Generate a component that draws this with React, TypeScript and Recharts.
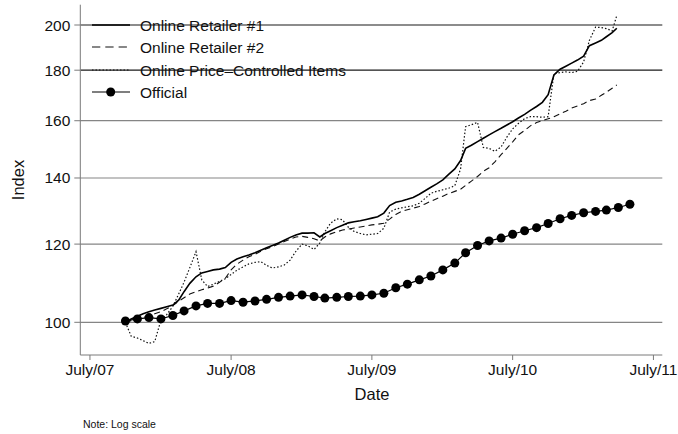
import { LineChart, Line, XAxis, YAxis, ReferenceLine } from "recharts"

const FONT = '"Liberation Sans", Arial, Helvetica, sans-serif'

// semi-monthly observation dates for the online indexes
const onlineDates = [
  "2007-10-01", "2007-10-16", "2007-11-01", "2007-11-16", "2007-12-01", "2007-12-16",
  "2008-01-01", "2008-01-16", "2008-02-01", "2008-02-16", "2008-03-01", "2008-03-16",
  "2008-04-01", "2008-04-16", "2008-05-01", "2008-05-16", "2008-06-01", "2008-06-16",
  "2008-07-01", "2008-07-16", "2008-08-01", "2008-08-16", "2008-09-01", "2008-09-16",
  "2008-10-01", "2008-10-16", "2008-11-01", "2008-11-16", "2008-12-01", "2008-12-16",
  "2009-01-01", "2009-01-16", "2009-02-01", "2009-02-16", "2009-03-01", "2009-03-16",
  "2009-04-01", "2009-04-16", "2009-05-01", "2009-05-16", "2009-06-01", "2009-06-16",
  "2009-07-01", "2009-07-16", "2009-08-01", "2009-08-16", "2009-09-01", "2009-09-16",
  "2009-10-01", "2009-10-16", "2009-11-01", "2009-11-16", "2009-12-01", "2009-12-16",
  "2010-01-01", "2010-01-16", "2010-02-01", "2010-02-16", "2010-03-01", "2010-03-16",
  "2010-04-01", "2010-04-16", "2010-05-01", "2010-05-16", "2010-06-01", "2010-06-16",
  "2010-07-01", "2010-07-16", "2010-08-01", "2010-08-16", "2010-09-01", "2010-09-16",
  "2010-10-01", "2010-10-16", "2010-11-01", "2010-11-16", "2010-12-01", "2010-12-16",
  "2011-01-01", "2011-01-16", "2011-02-01", "2011-02-16", "2011-03-01", "2011-03-16",
  "2011-03-28",
]

const retailer1 = [
  100.0, 100.8, 101.4, 102.0, 102.5, 102.9,
  103.3, 103.7, 104.1, 105.3, 107.4, 109.5,
  111.2, 112.2, 112.6, 113.0, 113.2, 113.6,
  115.0, 115.9, 116.5, 117.0, 117.6, 118.3,
  119.0, 119.6, 120.3, 121.1, 121.9, 122.6,
  123.1, 123.1, 123.2, 122.0, 123.0, 123.8,
  124.7, 125.4, 126.1, 126.4, 126.7, 127.1,
  127.5, 127.9, 129.0, 131.3, 132.3, 132.7,
  133.2, 133.8, 134.8, 135.9, 137.0, 138.1,
  139.4, 141.2, 143.0, 145.8, 150.0, 151.1,
  152.4, 153.6, 154.8, 156.0, 157.2, 158.4,
  159.6, 161.0, 162.4, 163.9, 165.4, 167.0,
  170.0, 178.0, 180.4, 181.7, 183.0, 184.3,
  186.0, 190.6, 191.8, 193.0, 194.6, 196.5,
  198.5,
]

const retailer2 = [
  100.0, 100.4, 100.9, 101.2, 101.5, 102.0,
  102.5, 103.2, 104.0, 105.0, 105.9, 106.8,
  107.4, 107.9, 108.3, 108.8, 109.8, 110.8,
  113.0, 114.5, 115.6, 116.5, 117.2, 118.0,
  118.7, 119.3, 120.0, 120.7, 121.4, 122.0,
  122.2, 121.9, 121.5, 120.9, 122.0, 122.9,
  123.5, 124.0, 124.3, 124.6, 124.9, 125.2,
  125.5, 125.7, 126.0, 127.2, 128.6, 129.5,
  130.0, 130.5, 131.0, 131.8, 132.6, 133.4,
  134.2, 135.0, 135.7, 136.4, 137.6, 139.0,
  140.5, 142.2, 143.4, 145.4, 147.8, 150.0,
  152.3, 154.8, 156.4, 158.1, 159.3, 160.1,
  160.7, 161.5, 162.6, 163.6, 164.8, 165.6,
  166.5, 167.7, 168.3, 169.8, 171.0, 172.6,
  173.9,
]

const priceControlled = [
  100.0, 96.8, 96.4, 95.8, 95.2, 95.6,
  100.5, 101.8, 103.8, 106.8, 109.8, 113.6,
  117.9, 110.4, 108.7, 109.3, 110.0, 110.7,
  111.8, 112.9, 113.8, 114.6, 115.0, 115.2,
  114.2, 113.5, 113.8, 114.3, 115.6, 118.0,
  120.0, 119.5, 118.5, 120.3, 123.5, 126.0,
  127.3, 127.0, 124.8, 123.6, 123.0, 122.6,
  122.8, 123.0, 124.5, 129.3, 130.2, 130.6,
  130.9, 131.2, 132.0, 133.5, 135.1, 135.7,
  136.2, 136.7, 137.5, 143.0, 157.8, 158.5,
  159.4, 150.3, 150.0, 149.0, 150.5, 154.0,
  157.0, 159.0, 160.8, 161.5, 161.5, 161.3,
  161.5, 178.5, 179.0, 179.3, 179.0, 179.5,
  183.5, 193.0, 199.0, 198.8, 198.3, 197.3,
  204.5,
]

// monthly official index
const officialDates = [
  "2007-10-01", "2007-11-01", "2007-12-01",
  "2008-01-01", "2008-02-01", "2008-03-01", "2008-04-01", "2008-05-01", "2008-06-01",
  "2008-07-01", "2008-08-01", "2008-09-01", "2008-10-01", "2008-11-01", "2008-12-01",
  "2009-01-01", "2009-02-01", "2009-03-01", "2009-04-01", "2009-05-01", "2009-06-01",
  "2009-07-01", "2009-08-01", "2009-09-01", "2009-10-01", "2009-11-01", "2009-12-01",
  "2010-01-01", "2010-02-01", "2010-03-01", "2010-04-01", "2010-05-01", "2010-06-01",
  "2010-07-01", "2010-08-01", "2010-09-01", "2010-10-01", "2010-11-01", "2010-12-01",
  "2011-01-01", "2011-02-01", "2011-03-01", "2011-04-01", "2011-05-01",
]

const officialValues = [
  100.3, 100.8, 101.1,
  100.8, 101.6, 102.7, 103.9, 104.5, 104.5,
  105.2, 104.8, 105.1, 105.5, 106.0, 106.3,
  106.6, 106.2, 105.8, 106.0, 106.2, 106.3,
  106.6, 107.0, 108.4, 109.3, 110.4, 111.4,
  113.0, 114.8, 117.6, 119.6, 120.9, 121.7,
  122.8, 123.8, 124.7, 125.9, 127.3, 128.3,
  129.1, 129.5, 129.9, 130.7, 131.7,
]

const xTickDates = ["2007-07-01", "2008-07-01", "2009-07-01", "2010-07-01", "2011-07-01"]
const xTickLabels = ["July/07", "July/08", "July/09", "July/10", "July/11"]
const yTicks = [100, 120, 140, 160, 180, 200]

const toTime = (d: string) => Date.parse(d)
const xTicks = xTickDates.map(toTime)
const xDomain = [Date.UTC(2007, 5, 6), Date.UTC(2011, 6, 24)]
const yDomain = [92.66, 209.7]

const series = (dates: string[], vals: number[]) =>
  dates.map((d, i) => ({ t: toTime(d), v: vals[i] }))

const r1Data = series(onlineDates, retailer1)
const r2Data = series(onlineDates, retailer2)
const pcData = series(onlineDates, priceControlled)
const officialData = series(officialDates, officialValues)

const fmtX = (t: number) => xTickLabels[xTicks.indexOf(t)] ?? ""

export default function App() {
  return (
    <div style={{ position: "absolute", left: 0, top: 0, width: 678, height: 434, background: "#fff", fontFamily: FONT }}>
      <LineChart width={678} height={434} margin={{ top: 4.7, right: 15.7, left: 20.3, bottom: 49 }}>
        {yTicks.map((v) => (
          <ReferenceLine
            key={v}
            y={v}
            stroke={v >= 180 ? "#1a1a1a" : "#858585"}
            strokeWidth={1.2}
          />
        ))}
        <XAxis
          dataKey="t"
          type="number"
          domain={xDomain}
          ticks={xTicks}
          tickFormatter={fmtX}
          allowDataOverflow
          height={30}
          stroke="#7a7a7a"
          tickSize={5}
          tickMargin={4}
          tick={{ fontSize: 15.5, fill: "#111", fontFamily: FONT }}
        />
        <YAxis
          type="number"
          scale="log"
          domain={yDomain}
          ticks={yTicks}
          allowDataOverflow
          width={60}
          stroke="#7a7a7a"
          tickSize={6}
          tickMargin={4}
          tick={{ fontSize: 15.5, fill: "#111", fontFamily: FONT }}
        />
        <Line data={r2Data} dataKey="v" stroke="#111" strokeWidth={1.1} strokeDasharray="6 4" dot={false} isAnimationActive={false} />
        <Line data={pcData} dataKey="v" stroke="#111" strokeWidth={1.2} strokeDasharray="1.5 2" dot={false} isAnimationActive={false} />
        <Line data={r1Data} dataKey="v" stroke="#000" strokeWidth={1.6} dot={false} isAnimationActive={false} />
        <Line
          data={officialData}
          dataKey="v"
          stroke="#000"
          strokeWidth={1.2}
          dot={{ r: 4.5, fill: "#000", stroke: "#000", strokeWidth: 0 }}
          isAnimationActive={false}
        />
      </LineChart>

      {/* legend, axis titles and note */}
      <svg width={678} height={434} style={{ position: "absolute", left: 0, top: 0, pointerEvents: "none" }}>
        <line x1={92} x2={130} y1={25} y2={25} stroke="#000" strokeWidth={1.6} />
        <line x1={92} x2={130} y1={47} y2={47} stroke="#111" strokeWidth={1.1} strokeDasharray="8.3 5" />
        <line x1={92} x2={130} y1={70} y2={70} stroke="#111" strokeWidth={1.2} strokeDasharray="1.5 2" />
        <line x1={92} x2={130} y1={92} y2={92} stroke="#000" strokeWidth={1.2} />
        <circle cx={110.7} cy={92} r={4.5} fill="#000" />
        <g fontFamily={FONT} fontSize={15.5} fill="#111" dominantBaseline="central">
          <text x={140} y={25}>Online Retailer #1</text>
          <text x={140} y={47}>Online Retailer #2</text>
          <text x={140} y={70}>Online Price–Controlled Items</text>
          <text x={140} y={92}>Official</text>
        </g>
        <text x={18} y={180} fontFamily={FONT} fontSize={16.5} fill="#111" textAnchor="middle" dominantBaseline="central" transform="rotate(-90 18 180)">
          Index
        </text>
        <text x={372} y={394} fontFamily={FONT} fontSize={16.5} fill="#111" textAnchor="middle" dominantBaseline="central">
          Date
        </text>
        <text x={83} y={424} fontFamily={FONT} fontSize={10.5} fill="#111" dominantBaseline="central">
          Note: Log scale
        </text>
      </svg>
    </div>
  )
}
